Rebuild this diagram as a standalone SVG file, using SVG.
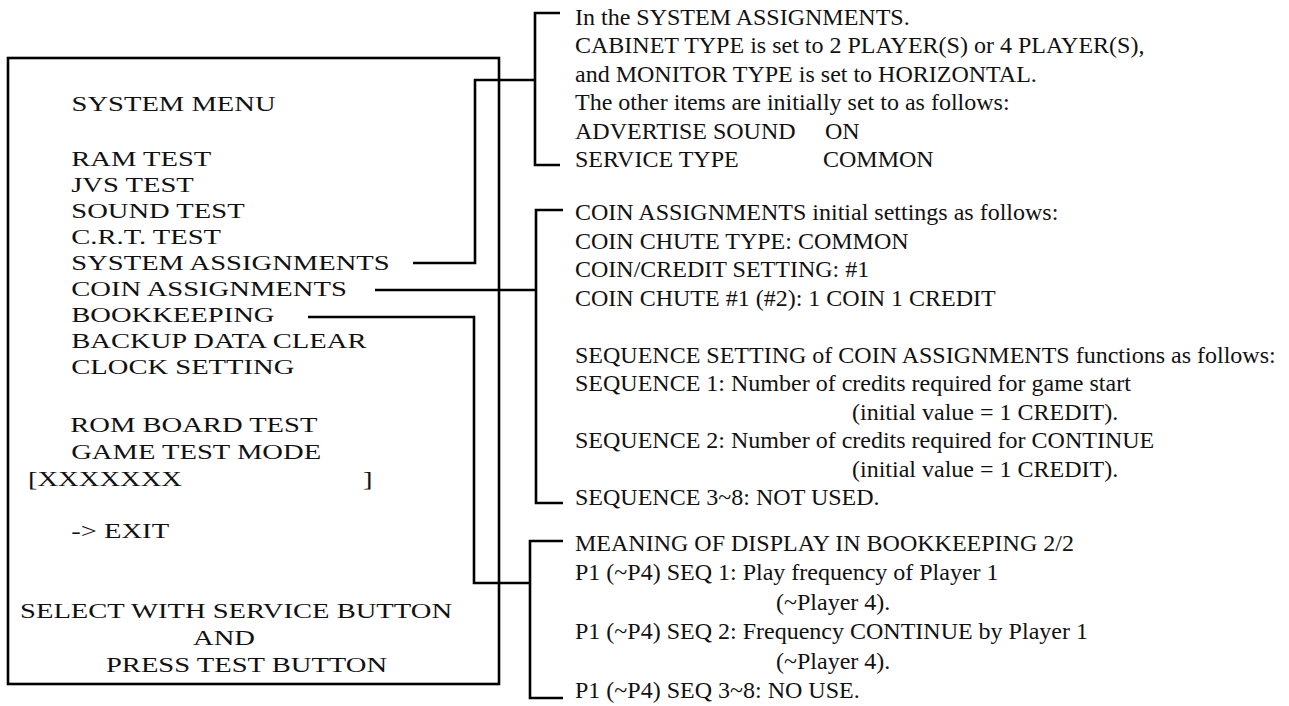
<svg xmlns="http://www.w3.org/2000/svg" width="1289" height="706" viewBox="0 0 1289 706">
<style>
.menu{font-family:"Liberation Serif","Times New Roman",serif;font-size:22px;fill:#111}
.note{font-family:"Liberation Serif","Times New Roman",serif;font-size:24px;fill:#111}
.ln{fill:none;stroke:#000;stroke-width:2.6;stroke-linejoin:miter}
</style>
<rect width="1289" height="706" fill="#fff"/>
<g id="system-menu">
<rect class="ln" x="8" y="58" width="491" height="626"/>
<g transform="scale(1.3,1)" class="menu">
<text x="55" y="111">SYSTEM MENU</text>
<text x="54.8" y="166">RAM TEST</text>
<text x="54.8" y="192">JVS TEST</text>
<text x="54.8" y="218">SOUND TEST</text>
<text x="54.8" y="244">C.R.T. TEST</text>
<text x="54.8" y="270">SYSTEM ASSIGNMENTS</text>
<text x="54.8" y="296">COIN ASSIGNMENTS</text>
<text x="54.8" y="322">BOOKKEEPING</text>
<text x="54.8" y="348">BACKUP DATA CLEAR</text>
<text x="54.8" y="374">CLOCK SETTING</text>
<text x="54" y="432">ROM BOARD TEST</text>
<text x="54.8" y="459">GAME TEST MODE</text>
<text x="21.5" y="486">[XXXXXXX</text>
<text x="279.2" y="486">]</text>
<text x="54.8" y="538">-&gt; EXIT</text>
<text x="15.4" y="618">SELECT WITH SERVICE BUTTON</text>
<text x="148.5" y="645">AND</text>
<text x="81.5" y="672">PRESS TEST BUTTON</text>
</g>
</g>
<g id="note-system">
<text class="note" x="575" y="25">In the SYSTEM ASSIGNMENTS.</text>
<text class="note" x="575" y="53.4">CABINET TYPE is set to 2 PLAYER(S) or 4 PLAYER(S),</text>
<text class="note" x="575" y="81.8">and MONITOR TYPE is set to HORIZONTAL.</text>
<text class="note" x="575" y="110.2">The other items are initially set to as follows:</text>
<text class="note" x="575" y="138.6">ADVERTISE SOUND<tspan x="825">ON</tspan></text>
<text class="note" x="575" y="167">SERVICE TYPE<tspan x="823">COMMON</tspan></text>
</g>
<g id="note-coin">
<text class="note" x="575" y="220">COIN ASSIGNMENTS initial settings as follows:</text>
<text class="note" x="575" y="248.5">COIN CHUTE TYPE: COMMON</text>
<text class="note" x="575" y="277">COIN/CREDIT SETTING: #1</text>
<text class="note" x="575" y="305.5">COIN CHUTE #1 (#2): 1 COIN 1 CREDIT</text>
<text class="note" x="575" y="362.5">SEQUENCE SETTING of COIN ASSIGNMENTS functions as follows:</text>
<text class="note" x="575" y="391">SEQUENCE 1: Number of credits required for game start</text>
<text class="note" x="852" y="419.5">(initial value = 1 CREDIT).</text>
<text class="note" x="575" y="448">SEQUENCE 2: Number of credits required for CONTINUE</text>
<text class="note" x="852" y="476.5">(initial value = 1 CREDIT).</text>
<text class="note" x="575" y="505">SEQUENCE 3~8: NOT USED.</text>
</g>
<g id="note-bookkeeping">
<text class="note" x="575" y="551">MEANING OF DISPLAY IN BOOKKEEPING 2/2</text>
<text class="note" x="575" y="580.4">P1 (~P4) SEQ 1: Play frequency of Player 1</text>
<text class="note" x="776" y="609.8">(~Player 4).</text>
<text class="note" x="575" y="639.2">P1 (~P4) SEQ 2: Frequency CONTINUE by Player 1</text>
<text class="note" x="776" y="668.6">(~Player 4).</text>
<text class="note" x="575" y="698">P1 (~P4) SEQ 3~8: NO USE.</text>
</g>
<g id="connectors">
<polyline class="ln" points="413,263 475,263 475,80 535,80"/>
<polyline class="ln" points="560,13 535,13 535,165 560,165"/>
<polyline class="ln" points="375,290 536,290"/>
<polyline class="ln" points="563,210 536,210 536,503 563,503"/>
<polyline class="ln" points="308,317 474,317 474,583 530,583"/>
<polyline class="ln" points="563,541 530,541 530,698 563,698"/>
</g>
</svg>
